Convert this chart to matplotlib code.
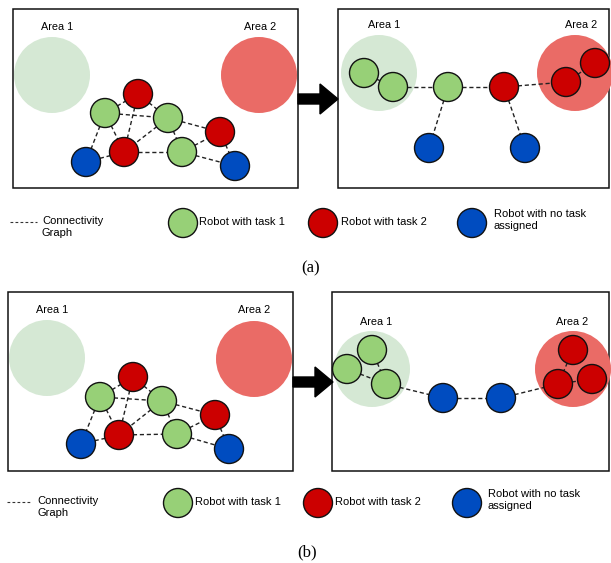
import matplotlib.pyplot as plt
from matplotlib.patches import Circle, Rectangle, FancyArrow

plt.rcParams['font.family'] = ['Liberation Sans', 'DejaVu Sans']

GREEN = '#97d077'
RED = '#cc0000'
BLUE = '#004cc0'
AREA1 = '#d5e8d4'
AREA2 = '#ea6b66'

# robots: (x, y, kind) in pixel coordinates of the canvas
a_before = [(138, 94, 'r'), (105, 113, 'g'), (168, 118, 'g'), (220, 132, 'r'),
            (124, 152, 'r'), (182, 152, 'g'), (86, 162, 'b'), (235, 166, 'b')]
a_before_edges = [(1, 0), (1, 2), (1, 6), (1, 4), (0, 4), (0, 2), (2, 4), (2, 3),
                  (2, 5), (4, 5), (4, 6), (5, 3), (5, 7), (3, 7)]

a_after = [(364, 73, 'g'), (393, 87, 'g'), (448, 87, 'g'), (504, 87, 'r'),
           (566, 82, 'r'), (595, 63, 'r'), (429, 148, 'b'), (525, 148, 'b')]
a_after_edges = [(0, 1), (1, 2), (2, 3), (3, 4), (4, 5), (2, 6), (3, 7)]

b_before = [(133, 377, 'r'), (100, 397, 'g'), (162, 401, 'g'), (215, 415, 'r'),
            (119, 435, 'r'), (177, 434, 'g'), (81, 444, 'b'), (229, 449, 'b')]
b_before_edges = a_before_edges

b_after = [(372, 350, 'g'), (347, 369, 'g'), (386, 384, 'g'), (443, 398, 'b'),
           (501, 398, 'b'), (573, 350, 'r'), (558, 384, 'r'), (592, 379, 'r')]
b_after_edges = [(0, 2), (1, 2), (2, 3), (3, 4), (4, 6), (5, 6), (6, 7)]

# boxes: (left, top, right, bottom)
boxes = [(13, 9, 298, 188), (338, 9, 609, 188),
         (8, 292, 293, 471), (332, 292, 609, 471)]
# areas: (cx, cy, label_x, label_y) for area 1 then area 2, one pair per box
areas = [((52, 75, 57, 27), (259, 75, 260, 27)),
         ((379, 73, 384, 25), (575, 73, 581, 25)),
         ((47, 358, 52, 310), (254, 359, 254, 310)),
         ((372, 369, 376, 322), (573, 369, 572, 322))]
arrows = [(298, 99, 40), (293, 382, 40)]

legend_rows = [223, 503]
legend_x = [(10, 37, 42, 183, 199, 323, 341, 472, 494),
            (7, 32, 37, 178, 195, 318, 335, 467, 488)]
captions = [('(a)', 311, 268), ('(b)', 307, 552)]

colors = {'g': GREEN, 'r': RED, 'b': BLUE}
R = 14.5
AREA_R = 38

fig = plt.figure(figsize=(6.11, 5.63), dpi=100)
ax = fig.add_axes([0, 0, 1, 1])
ax.set_xlim(0, 611)
ax.set_ylim(563, 0)
ax.axis('off')


def draw_graph(robots, edges):
    for i, j in edges:
        ax.plot([robots[i][0], robots[j][0]], [robots[i][1], robots[j][1]],
                color='#222222', lw=1.0, ls=(0, (3, 2)), zorder=3)
    for x, y, k in robots:
        ax.add_patch(Circle((x, y), R, facecolor=colors[k], edgecolor='#111111',
                            lw=1.0, zorder=4))


for (l, t, r, b), (ar1, ar2) in zip(boxes, areas):
    ax.add_patch(Rectangle((l, t), r - l, b - t, fill=False, edgecolor='#111111',
                           lw=1.1, zorder=1))
    for (cx, cy, lx, ly), col, name in [(ar1, AREA1, 'Area 1'), (ar2, AREA2, 'Area 2')]:
        ax.add_patch(Circle((cx, cy), AREA_R, facecolor=col, edgecolor='none', zorder=2))
        ax.text(lx, ly, name, fontsize=7.8, ha='center', va='center', zorder=5)

draw_graph(a_before, a_before_edges)
draw_graph(a_after, a_after_edges)
draw_graph(b_before, b_before_edges)
draw_graph(b_after, b_after_edges)

for x, y, dx in arrows:
    ax.add_patch(FancyArrow(x, y, dx, 0, width=10, head_width=30, head_length=18,
                            length_includes_head=True, color='black', zorder=6))

for y, (lx0, lx1, tx, gx, gtx, rx, rtx, bx, btx) in zip(legend_rows, legend_x):
    ax.plot([lx0, lx1], [y - 1, y - 1], color='#333333', lw=0.8, ls=(0, (2.5, 2)))
    ax.text(tx, y - 7, 'Connectivity\nGraph', fontsize=8, ha='left', va='top',
            linespacing=1.2)
    for cx, col in [(gx, GREEN), (rx, RED), (bx, BLUE)]:
        ax.add_patch(Circle((cx, y), R, facecolor=col, edgecolor='#111111', lw=1.0))
    ax.text(gtx, y - 1, 'Robot with task 1', fontsize=8, ha='left', va='center')
    ax.text(rtx, y - 1, 'Robot with task 2', fontsize=8, ha='left', va='center')
    ax.text(btx, y - 14, 'Robot with no task\nassigned', fontsize=8, ha='left',
            va='top', linespacing=1.2)

for s, x, y in captions:
    ax.text(x, y, s, fontsize=12, family=['Liberation Serif', 'DejaVu Serif'],
            ha='center', va='center')

fig.savefig('out.png', dpi=100)
